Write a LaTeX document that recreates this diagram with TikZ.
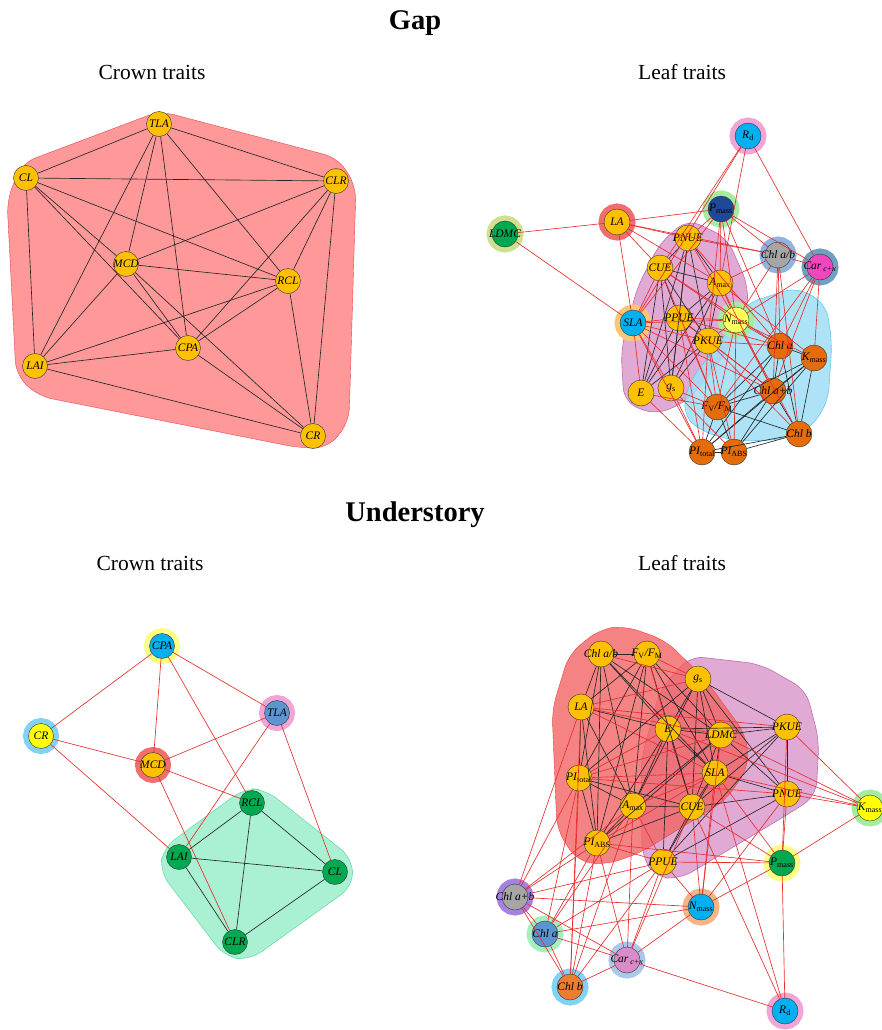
\documentclass[tikz,border=0pt]{standalone}
\usepackage{fontspec}
\setmainfont{Liberation Serif}
\usetikzlibrary{graphs}

\pgfdeclarelayer{background}
\pgfsetlayers{background,main}

\definecolor{cgold}{RGB}{255,192,0}
\definecolor{cdorange}{RGB}{228,108,10}
\definecolor{corange}{RGB}{237,125,49}
\definecolor{cgreen}{RGB}{0,168,80}
\definecolor{csky}{RGB}{0,176,240}
\definecolor{csteel}{RGB}{91,150,210}
\definecolor{cyellow}{RGB}{255,255,0}
\definecolor{clyellow}{RGB}{255,255,90}
\definecolor{cnavy}{RGB}{31,72,150}
\definecolor{cgray}{RGB}{166,166,166}
\definecolor{cmagenta}{RGB}{240,70,190}
\definecolor{cmauve}{RGB}{218,140,200}
\definecolor{rpink}{RGB}{240,165,215}
\definecolor{rgreen}{RGB}{165,235,160}
\definecolor{rred}{RGB}{240,110,110}
\definecolor{rolive}{RGB}{205,225,145}
\definecolor{rblue}{RGB}{145,180,220}
\definecolor{rteal}{RGB}{110,160,195}
\definecolor{rorange}{RGB}{248,200,120}
\definecolor{ryellow}{RGB}{255,255,130}
\definecolor{rsky}{RGB}{130,210,245}
\definecolor{rpurple}{RGB}{165,130,225}
\definecolor{rpeach}{RGB}{244,180,135}
\definecolor{rmint}{RGB}{165,240,190}
\definecolor{rlblue}{RGB}{170,200,235}
\definecolor{hred}{RGB}{255,153,153}
\definecolor{hredline}{RGB}{230,70,70}
\definecolor{hmint}{RGB}{170,240,210}
\definecolor{hmintline}{RGB}{110,220,170}
\definecolor{hpink}{RGB}{225,170,212}
\definecolor{hpinkline}{RGB}{190,110,170}
\definecolor{hblue}{RGB}{160,222,246}
\definecolor{hblueline}{RGB}{100,200,240}
\definecolor{hdred}{RGB}{242,100,100}
\definecolor{edgered}{RGB}{232,45,45}

\newcommand{\trlab}[1]{\makebox[0pt]{#1}}
\newcommand{\lsub}[1]{\textsubscript{\upshape #1}}

\begin{document}
\begin{tikzpicture}[x=1pt, y=-1pt,
    trait/.style={circle, draw=black!80, fill=#1, minimum size=25pt, inner sep=0pt,
      font=\fontsize{11.5}{12}\selectfont\itshape},
    leaf/.style={minimum size=26pt},
    ring/.style={preaction={draw=#1, line width=11pt}},
    title/.style={anchor=base, font=\fontsize{28.5}{30}\selectfont\bfseries},
    panel/.style={anchor=base, font=\fontsize{21.5}{24}\selectfont},
    bedge/.style={draw=black!85, line width=0.65pt},
    redge/.style={draw=edgered, line width=0.65pt}]
  \useasboundingbox (0,0) rectangle (882,1030);

  % titles
  \node[title] (tgap) at (415,30) {Gap};
  \node[title] (tund) at (415,521) {Understory};
  \node[panel] (tgc) at (152,80) {Crown traits};
  \node[panel] (tgl) at (682,80) {Leaf traits};
  \node[panel] (tuc) at (150,570) {Crown traits};
  \node[panel] (tul) at (682,570) {Leaf traits};

  % gap, crown traits
  \node[trait=cgold] (gcTLA) at (159,124) {\trlab{TLA}};
  \node[trait=cgold] (gcCL)  at (26,178)  {\trlab{CL}};
  \node[trait=cgold] (gcCLR) at (336,181) {\trlab{CLR}};
  \node[trait=cgold] (gcMCD) at (126,264) {\trlab{MCD}};
  \node[trait=cgold] (gcRCL) at (288,281) {\trlab{RCL}};
  \node[trait=cgold] (gcCPA) at (188,348) {\trlab{CPA}};
  \node[trait=cgold] (gcLAI) at (35,366)  {\trlab{LAI}};
  \node[trait=cgold] (gcCR)  at (313,436) {\trlab{CR}};

  \graph[edges={bedge}] {
    (gcTLA) -- {(gcCL), (gcCLR), (gcMCD), (gcRCL), (gcCPA), (gcLAI)};
    (gcCL) -- {(gcCLR), (gcMCD), (gcRCL), (gcCPA), (gcLAI)};
    (gcCLR) -- {(gcMCD), (gcCPA), (gcRCL), (gcCR)};
    (gcMCD) -- {(gcRCL), (gcCPA), (gcLAI), (gcCR)};
    (gcRCL) -- {(gcCPA), (gcLAI), (gcCR)};
    (gcCPA) -- {(gcLAI), (gcCR)};
    (gcLAI) -- (gcCR);
  };

  % gap, leaf traits
  \node[trait=csky, leaf, ring=rpink] (glRd) at (748,136) {\trlab{R\lsub{d}}};
  \node[trait=cnavy, leaf, ring=rgreen] (glPmass) at (721,209) {\trlab{P\lsub{mass}}};
  \node[trait=cgold, leaf, ring=rred] (glLA) at (617,222) {\trlab{LA}};
  \node[trait=cgreen, leaf, ring=rolive] (glLDMC) at (505,234) {\trlab{LDMC}};
  \node[trait=cgold, leaf] (glPNUE) at (688,238) {\trlab{PNUE}};
  \node[trait=cgold, leaf] (glCUE) at (660,268) {\trlab{CUE}};
  \node[trait=cgold, leaf] (glAmax) at (720,283) {\trlab{A\lsub{max}}};
  \node[trait=cgray, leaf, ring=rblue] (glChlab) at (778,255) {\trlab{Chl a/b}};
  \node[trait=cmagenta, leaf, ring=rteal] (glCar) at (820,267) {\trlab{Car\,\textsubscript{c+x}}};
  \node[trait=csky, leaf, ring=rorange] (glSLA) at (633,323) {\trlab{SLA}};
  \node[trait=cgold, leaf] (glPPUE) at (679,318) {\trlab{PPUE}};
  \node[trait=clyellow, leaf, ring=rgreen] (glNmass) at (736,320) {\trlab{N\lsub{mass}}};
  \node[trait=cgold, leaf] (glPKUE) at (708,341) {\trlab{PKUE}};
  \node[trait=cgold, leaf] (glE) at (641,393) {\trlab{E}};
  \node[trait=cgold, leaf] (glgs) at (671,388) {\trlab{g\lsub{s}}};
  \node[trait=cdorange, leaf] (glChla) at (780,346) {\trlab{Chl a}};
  \node[trait=cdorange, leaf] (glKmass) at (814,358) {\trlab{K\lsub{mass}}};
  \node[trait=cdorange, leaf] (glChlapb) at (773,391) {\trlab{Chl a+b}};
  \node[trait=cdorange, leaf] (glFvFm) at (717,407) {\trlab{F\lsub{V}/F\lsub{M}}};
  \node[trait=cdorange, leaf] (glChlb) at (799,434) {\trlab{Chl b}};
  \node[trait=cdorange, leaf] (glPItot) at (702,452) {\trlab{PI\lsub{total}}};
  \node[trait=cdorange, leaf] (glPIABS) at (734,452) {\trlab{PI\lsub{ABS}}};

  \graph[edges={bedge}] {
    (glPNUE) -- {(glCUE), (glAmax), (glPPUE), (glPKUE), (glE), (glgs)};
    (glCUE) -- {(glAmax), (glPPUE), (glPKUE), (glE), (glgs)};
    (glAmax) -- {(glPPUE), (glPKUE), (glE), (glgs)};
    (glPPUE) -- {(glPKUE), (glE), (glgs)};
    (glPKUE) -- {(glE), (glgs)};
    (glChla) -- {(glKmass), (glChlapb), (glFvFm), (glChlb), (glPItot)};
    (glKmass) -- {(glChlapb), (glFvFm), (glChlb), (glPIABS), (glPItot)};
    (glChlapb) -- {(glFvFm), (glChlb), (glPItot), (glPIABS)};
    (glFvFm) -- {(glChlb), (glPItot), (glPIABS)};
    (glChlb) -- {(glPItot), (glPIABS)};
    (glPItot) -- (glPIABS);
    (glRd) --[redge] {(glSLA), (glCUE), (glAmax), (glCar)};
    (glLDMC) --[redge] {(glLA), (glSLA)};
    (glLA) --[redge] {(glPmass), (glPNUE), (glCUE), (glSLA), (glAmax), (glChlab)};
    (glPmass) --[redge] {(glPNUE), (glAmax), (glNmass), (glChlab), (glCar), (glPKUE), (glChla), (glSLA)};
    (glPNUE) --[redge] {(glChlab), (glNmass), (glChla)};
    (glCUE) --[redge] {(glNmass), (glSLA), (glChla), (glFvFm)};
    (glAmax) --[redge] {(glChlab), (glNmass), (glChlapb), (glKmass)};
    (glChlab) --[redge] {(glCar), (glChla), (glChlapb), (glNmass), (glChlb)};
    (glCar) --[redge] {(glChla), (glKmass), (glChlapb), (glNmass), (glFvFm)};
    (glSLA) --[redge] {(glPPUE), (glPKUE), (glNmass), (glFvFm), (glPItot), (glE), (glgs), (glChlapb)};
    (glPPUE) --[redge] {(glNmass), (glChla), (glChlapb), (glPItot), (glFvFm)};
    (glNmass) --[redge] {(glPKUE), (glChla), (glKmass), (glChlapb), (glFvFm), (glChlb), (glPIABS)};
    (glPKUE) --[redge] {(glChla), (glChlapb), (glFvFm), (glPItot), (glPIABS), (glChlb)};
    (glE) --[redge] {(glPItot), (glFvFm)};
    (glgs) --[redge] {(glFvFm), (glPItot), (glPIABS)};
  };

  % understory, crown traits
  \node[trait=csky, ring=ryellow] (ucCPA) at (162,646) {\trlab{CPA}};
  \node[trait=csteel, ring=rpink] (ucTLA) at (277,713) {\trlab{TLA}};
  \node[trait=cyellow, ring=rsky] (ucCR) at (41,736) {\trlab{CR}};
  \node[trait=cgold, ring=rred] (ucMCD) at (153,765) {\trlab{MCD}};
  \node[trait=cgreen] (ucRCL) at (252,803) {\trlab{RCL}};
  \node[trait=cgreen] (ucLAI) at (179,857) {\trlab{LAI}};
  \node[trait=cgreen] (ucCL)  at (335,872) {\trlab{CL}};
  \node[trait=cgreen] (ucCLR) at (235,942) {\trlab{CLR}};

  \graph[edges={redge}] {
    (ucCPA) -- {(ucCR), (ucMCD), (ucTLA), (ucRCL)};
    (ucCR) -- {(ucMCD), (ucLAI)};
    (ucTLA) -- {(ucMCD), (ucLAI), (ucCL)};
    (ucMCD) -- {(ucRCL), (ucCLR)};
    (ucRCL) --[bedge] {(ucLAI), (ucCL), (ucCLR)};
    (ucLAI) --[bedge] {(ucCL), (ucCLR)};
    (ucCLR) --[bedge] (ucCL);
  };

  % understory, leaf traits
  \node[trait=cgold, leaf] (ulChlab) at (601,654) {\trlab{Chl a/b}};
  \node[trait=cgold, leaf] (ulFvFm) at (647,654) {\trlab{F\lsub{V}/F\lsub{M}}};
  \node[trait=cgold, leaf] (ulgs) at (698,679) {\trlab{g\lsub{s}}};
  \node[trait=cgold, leaf] (ulLA) at (581,707) {\trlab{LA}};
  \node[trait=cgold, leaf] (ulE) at (668,729) {\trlab{E}};
  \node[trait=cgold, leaf] (ulLDMC) at (721,735) {\trlab{LDMC}};
  \node[trait=cgold, leaf] (ulPKUE) at (787,727) {\trlab{PKUE}};
  \node[trait=cgold, leaf] (ulPItot) at (579,778) {\trlab{PI\lsub{total}}};
  \node[trait=cgold, leaf] (ulSLA) at (715,773) {\trlab{SLA}};
  \node[trait=cgold, leaf] (ulPNUE) at (787,794) {\trlab{PNUE}};
  \node[trait=cgold, leaf] (ulAmax) at (633,806) {\trlab{A\lsub{max}}};
  \node[trait=cgold, leaf] (ulCUE) at (692,807) {\trlab{CUE}};
  \node[trait=cgold, leaf] (ulPIABS) at (597,843) {\trlab{PI\lsub{ABS}}};
  \node[trait=cgold, leaf] (ulPPUE) at (663,862) {\trlab{PPUE}};
  \node[trait=cgreen, leaf, ring=ryellow] (ulPmass) at (782,863) {\trlab{P\lsub{mass}}};
  \node[trait=cyellow, leaf, ring=rgreen] (ulKmass) at (870,808) {\trlab{K\lsub{mass}}};
  \node[trait=cgray, leaf, ring=rpurple] (ulChlapb) at (515,897) {\trlab{Chl a+b}};
  \node[trait=csky, leaf, ring=rpeach] (ulNmass) at (701,907) {\trlab{N\lsub{mass}}};
  \node[trait=csteel, leaf, ring=rmint] (ulChla) at (545,934) {\trlab{Chl a}};
  \node[trait=cmauve, leaf, ring=rlblue] (ulCar) at (627,960) {\trlab{Car\,\textsubscript{c+x}}};
  \node[trait=corange, leaf, ring=rsky] (ulChlb) at (570,987) {\trlab{Chl b}};
  \node[trait=csky, leaf, ring=rpink] (ulRd) at (785,1011) {\trlab{R\lsub{d}}};

  \graph[edges={bedge}] {
    (ulChlab) -- {(ulFvFm), (ulLA), (ulPItot), (ulAmax), (ulE), (ulLDMC), (ulSLA), (ulPIABS)};
    (ulFvFm) -- {(ulLA), (ulPItot), (ulAmax), (ulLDMC), (ulSLA), (ulPIABS), (ulCUE)};
    (ulgs) -- {(ulE), (ulLDMC), (ulPKUE), (ulSLA), (ulCUE), (ulPNUE), (ulPItot), (ulAmax)};
    (ulLA) -- {(ulPItot), (ulE), (ulAmax), (ulPIABS)};
    (ulE) -- {(ulLDMC), (ulSLA), (ulPKUE), (ulCUE), (ulAmax), (ulPIABS), (ulPPUE)};
    (ulLDMC) -- {(ulPKUE), (ulSLA), (ulAmax), (ulPIABS), (ulCUE), (ulPNUE)};
    (ulPKUE) -- {(ulPNUE), (ulSLA), (ulCUE), (ulPPUE)};
    (ulPItot) -- {(ulAmax), (ulPIABS), (ulCUE)};
    (ulSLA) -- {(ulCUE), (ulPPUE), (ulPNUE)};
    (ulPNUE) -- {(ulCUE), (ulPPUE)};
    (ulAmax) -- {(ulCUE), (ulPIABS)};
    (ulCUE) -- {(ulPPUE), (ulPIABS)};
    (ulKmass) --[redge] {(ulPKUE), (ulPNUE), (ulSLA), (ulLDMC), (ulPmass), (ulE)};
    (ulPmass) --[redge] {(ulPNUE), (ulPKUE), (ulPPUE), (ulCUE), (ulNmass), (ulRd), (ulSLA), (ulPIABS)};
    (ulChlapb) --[redge] {(ulPIABS), (ulPItot), (ulPPUE), (ulNmass), (ulChla), (ulChlb), (ulCar), (ulLA), (ulAmax)};
    (ulChla) --[redge] {(ulPItot), (ulPIABS), (ulPPUE), (ulNmass), (ulChlb), (ulCar), (ulAmax)};
    (ulChlb) --[redge] {(ulPItot), (ulPIABS), (ulAmax), (ulCar), (ulLA), (ulPPUE)};
    (ulCar) --[redge] {(ulPIABS), (ulPPUE), (ulNmass), (ulRd), (ulAmax), (ulCUE)};
    (ulNmass) --[redge] {(ulPPUE), (ulSLA), (ulPNUE), (ulCUE), (ulLDMC)};
    (ulRd) --[redge] {(ulSLA), (ulCUE)};
    (ulLA) --[redge] {(ulLDMC), (ulSLA), (ulgs), (ulPKUE)};
    (ulPItot) --[redge] {(ulSLA), (ulLDMC), (ulPNUE), (ulE)};
    (ulChlab) --[redge] (ulgs);
    (ulFvFm) --[redge] {(ulgs), (ulE)};
    (ulPIABS) --[redge] {(ulPPUE), (ulSLA)};
    (ulAmax) --[redge] {(ulPPUE), (ulSLA)};
  };

  % module hulls
  \begin{pgfonlayer}{background}
    \filldraw[fill=hred, draw=hredline, line width=0.4pt, rounded corners=14pt]
      (160,111) -- (338,158) -- (356,186) -- (349,422) -- (328,448) -- (300,448)
      -- (38,396) -- (16,375) -- (7,200) -- (22,163) -- cycle;
    \filldraw[fill=hmint, draw=hmintline, line width=0.6pt, rounded corners=14pt]
      (163,848) -- (245,788) -- (266,790) -- (352,858) -- (353,886) -- (250,960)
      -- (225,957) -- (160,872) -- cycle;
    \filldraw[fill=hpink, draw=hpinkline, line width=0.6pt, rounded corners=14pt]
      (688,219) -- (727,238) -- (748,285) -- (747,312) -- (720,362) -- (686,402)
      -- (655,415) -- (624,402) -- (621,350) -- (637,288) -- (660,243) -- cycle;
    \filldraw[fill=hblue, draw=hblueline, line width=0.6pt, fill opacity=0.85, rounded corners=14pt]
      (745,304) -- (797,287) -- (826,304) -- (832,342) -- (828,402) -- (810,429)
      -- (780,440) -- (735,441) -- (700,431) -- (682,413) -- (690,380) -- (722,340) -- cycle;
    \filldraw[fill=hpink, draw=hpinkline, line width=0.6pt, rounded corners=14pt]
      (690,656) -- (760,664) -- (806,690) -- (819,740) -- (816,796) -- (790,813)
      -- (680,879) -- (655,877) -- (642,856) -- (641,760) -- (660,690) -- cycle;
    \filldraw[fill=hdred, draw=hredline, line width=0.4pt, fill opacity=0.8, rounded corners=14pt]
      (625,626) -- (665,640) -- (706,680) -- (746,735) -- (749,766) -- (726,800)
      -- (640,853) -- (605,865) -- (577,861) -- (557,830) -- (552,710) -- (569,654)
      -- (600,629) -- cycle;
  \end{pgfonlayer}
\end{tikzpicture}
\end{document}
